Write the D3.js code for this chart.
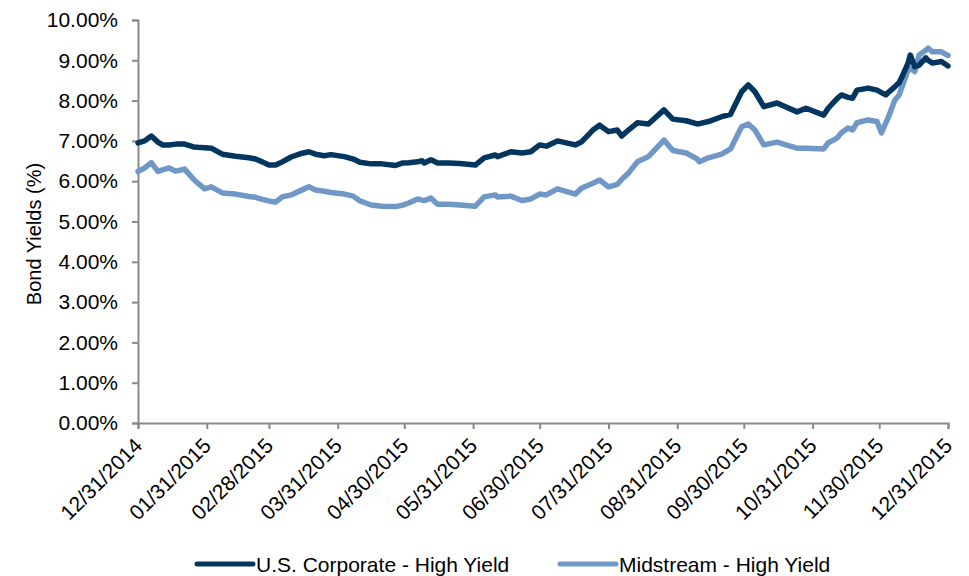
<!DOCTYPE html>
<html lang="en">
<head>
<meta charset="UTF-8">
<script src="https://d3js.org/d3.v7.min.js"></script>
<title>Bond Yields</title>
<style>
  body { margin: 0; background: #fff; }
  svg text { font-family: "Liberation Sans", Arial, sans-serif; fill: #000; }
</style>
</head>
<body>
<div id="chart"></div>
<script>

// dates (mm/dd/yyyy)
var dates = [
  "12/31/2014","01/03/2015","01/06/2015","01/09/2015","01/11/2015","01/14/2015","01/17/2015","01/21/2015",
  "01/25/2015","01/27/2015","01/30/2015","02/02/2015","02/07/2015","02/13/2015","02/19/2015","02/22/2015",
  "02/25/2015","02/28/2015","03/03/2015","03/06/2015","03/10/2015","03/14/2015","03/18/2015","03/21/2015",
  "03/25/2015","03/28/2015","04/03/2015","04/07/2015","04/10/2015","04/15/2015","04/20/2015","04/26/2015",
  "04/29/2015","05/02/2015","05/06/2015","05/08/2015","05/09/2015","05/12/2015","05/15/2015","05/20/2015",
  "05/25/2015","06/01/2015","06/05/2015","06/10/2015","06/11/2015","06/17/2015","06/22/2015","06/26/2015",
  "06/30/2015","07/03/2015","07/08/2015","07/16/2015","07/19/2015","07/24/2015","07/27/2015","07/31/2015",
  "08/04/2015","08/06/2015","08/09/2015","08/13/2015","08/18/2015","08/25/2015","08/29/2015","09/04/2015",
  "09/09/2015","09/10/2015","09/14/2015","09/20/2015","09/24/2015","09/29/2015","10/02/2015","10/05/2015",
  "10/09/2015","10/15/2015","10/19/2015","10/24/2015","10/28/2015","11/05/2015","11/07/2015","11/11/2015",
  "11/13/2015","11/16/2015","11/18/2015","11/20/2015","11/25/2015","11/29/2015","12/01/2015","12/03/2015",
  "12/04/2015","12/07/2015","12/09/2015","12/10/2015","12/13/2015","12/14/2015","12/16/2015","12/18/2015",
  "12/21/2015","12/22/2015","12/24/2015","12/28/2015","12/31/2015"
];

// U.S. Corporate - High Yield (%)
var corporate = [
  6.95,7.00,7.12,6.97,6.90,6.90,6.92,6.92,
  6.85,6.84,6.83,6.82,6.67,6.62,6.58,6.55,
  6.48,6.40,6.40,6.48,6.60,6.68,6.73,6.67,
  6.63,6.66,6.61,6.55,6.47,6.43,6.43,6.39,
  6.45,6.46,6.48,6.51,6.45,6.53,6.45,6.45,
  6.44,6.40,6.58,6.65,6.61,6.73,6.70,6.73,
  6.90,6.87,7.00,6.90,6.98,7.27,7.39,7.23,
  7.27,7.12,7.27,7.45,7.42,7.77,7.54,7.50,
  7.42,7.43,7.48,7.60,7.66,8.22,8.39,8.22,
  7.85,7.94,7.84,7.72,7.81,7.64,7.81,8.05,
  8.14,8.08,8.06,8.26,8.31,8.26,8.20,8.14,
  8.20,8.34,8.45,8.56,8.93,9.13,8.84,8.88,
  9.06,9.00,8.93,8.97,8.86
];

// Midstream - High Yield (%)
var midstream = [
  6.24,6.33,6.46,6.24,6.28,6.33,6.25,6.30,
  6.05,5.95,5.81,5.86,5.71,5.68,5.62,5.60,
  5.55,5.51,5.48,5.61,5.66,5.76,5.86,5.78,
  5.75,5.72,5.68,5.63,5.51,5.41,5.38,5.37,
  5.40,5.46,5.56,5.53,5.52,5.58,5.43,5.43,
  5.41,5.38,5.61,5.66,5.61,5.63,5.52,5.56,
  5.68,5.66,5.81,5.68,5.83,5.95,6.03,5.86,
  5.92,6.05,6.20,6.48,6.61,7.02,6.76,6.70,
  6.55,6.48,6.58,6.67,6.80,7.35,7.42,7.27,
  6.90,6.97,6.90,6.82,6.82,6.80,6.95,7.07,
  7.20,7.32,7.27,7.45,7.52,7.48,7.20,7.45,
  7.57,8.01,8.14,8.30,8.76,8.80,8.72,9.13,
  9.25,9.30,9.21,9.21,9.12
];

var seriesNames = ["U.S. Corporate - High Yield", "Midstream - High Yield"];
var seriesColors = ["#03365f", "#7098c7"];

var xTickLabels = ["12/31/2014","01/31/2015","02/28/2015","03/31/2015","04/30/2015","05/31/2015","06/30/2015",
                   "07/31/2015","08/31/2015","09/30/2015","10/31/2015","11/30/2015","12/31/2015"];
var yTicks = [0,1,2,3,4,5,6,7,8,9,10];

var parseDate = d3.timeParse("%m/%d/%Y");
var formatDate = d3.timeFormat("%m/%d/%Y");

var width = 969, height = 576;
var margin = {top: 20, right: 21, bottom: 153, left: 138};
var fontSize = "21px";

var svg = d3.select("#chart")
  .append("svg")
    .attr("width", width)
    .attr("height", height);

var x = d3.scaleTime()
  .domain([parseDate(xTickLabels[0]), parseDate(xTickLabels[xTickLabels.length - 1])])
  .range([margin.left, width - margin.right]);

var y = d3.scaleLinear()
  .domain([0, 10])
  .range([height - margin.bottom, margin.top]);

var axisColor = "#8a8a8a";

// Y axis
var yAxis = svg.append("g")
  .attr("transform", "translate(" + margin.left + ",0)")
  .call(d3.axisLeft(y)
    .tickValues(yTicks)
    .tickSize(6)
    .tickPadding(14)
    .tickFormat(function(d) { return d3.format(".2f")(d) + "%"; }));
yAxis.select(".domain").attr("stroke", axisColor).attr("stroke-width", 2);
yAxis.selectAll(".tick line").attr("stroke", axisColor).attr("stroke-width", 2);
yAxis.selectAll(".tick text")
  .attr("font-size", fontSize)
  .attr("font-family", "Liberation Sans, Arial, sans-serif")
  .attr("fill", "#000");

// X axis
var xAxis = svg.append("g")
  .attr("transform", "translate(0," + (height - margin.bottom) + ")")
  .call(d3.axisBottom(x)
    .tickValues(xTickLabels.map(parseDate))
    .tickSize(6)
    .tickFormat(formatDate));
xAxis.select(".domain").attr("stroke", axisColor).attr("stroke-width", 2);
xAxis.selectAll(".tick line").attr("stroke", axisColor).attr("stroke-width", 2);
xAxis.selectAll(".tick text")
  .attr("font-size", fontSize)
  .attr("font-family", "Liberation Sans, Arial, sans-serif")
  .attr("fill", "#000")
  .attr("text-anchor", "end")
  .attr("dy", null)
  .attr("y", 0)
  .attr("transform", "translate(5,24) rotate(-45)");

// Y axis title
svg.append("text")
  .attr("transform", "translate(41,234) rotate(-90)")
  .attr("text-anchor", "middle")
  .attr("font-size", "20px")
  .text("Bond Yields (%)");

// Lines
var data = dates.map(function(d, i) {
  return {date: parseDate(d), values: [corporate[i], midstream[i]]};
});

// draw midstream first so the corporate line sits on top where they cross
[1, 0].forEach(function(k) {
  svg.append("path")
    .datum(data)
    .attr("fill", "none")
    .attr("stroke", seriesColors[k])
    .attr("stroke-width", 5.5)
    .attr("stroke-linejoin", "round")
    .attr("stroke-linecap", "round")
    .attr("d", d3.line()
      .x(function(d) { return x(d.date); })
      .y(function(d) { return y(d.values[k]); }));
});

// Legend
var legendX = [197, 560];
var legend = svg.selectAll(".legend")
  .data(seriesNames)
  .enter()
  .append("g")
    .attr("transform", function(d, i) { return "translate(" + legendX[i] + ",564)"; });
legend.append("line")
  .attr("x1", 0).attr("x2", 56)
  .attr("stroke", function(d, i) { return seriesColors[i]; })
  .attr("stroke-width", 5)
  .attr("stroke-linecap", "round");
legend.append("text")
  .attr("x", 59)
  .attr("y", 8)
  .attr("font-size", fontSize)
  .text(function(d) { return d; });

</script>
</body>
</html>
